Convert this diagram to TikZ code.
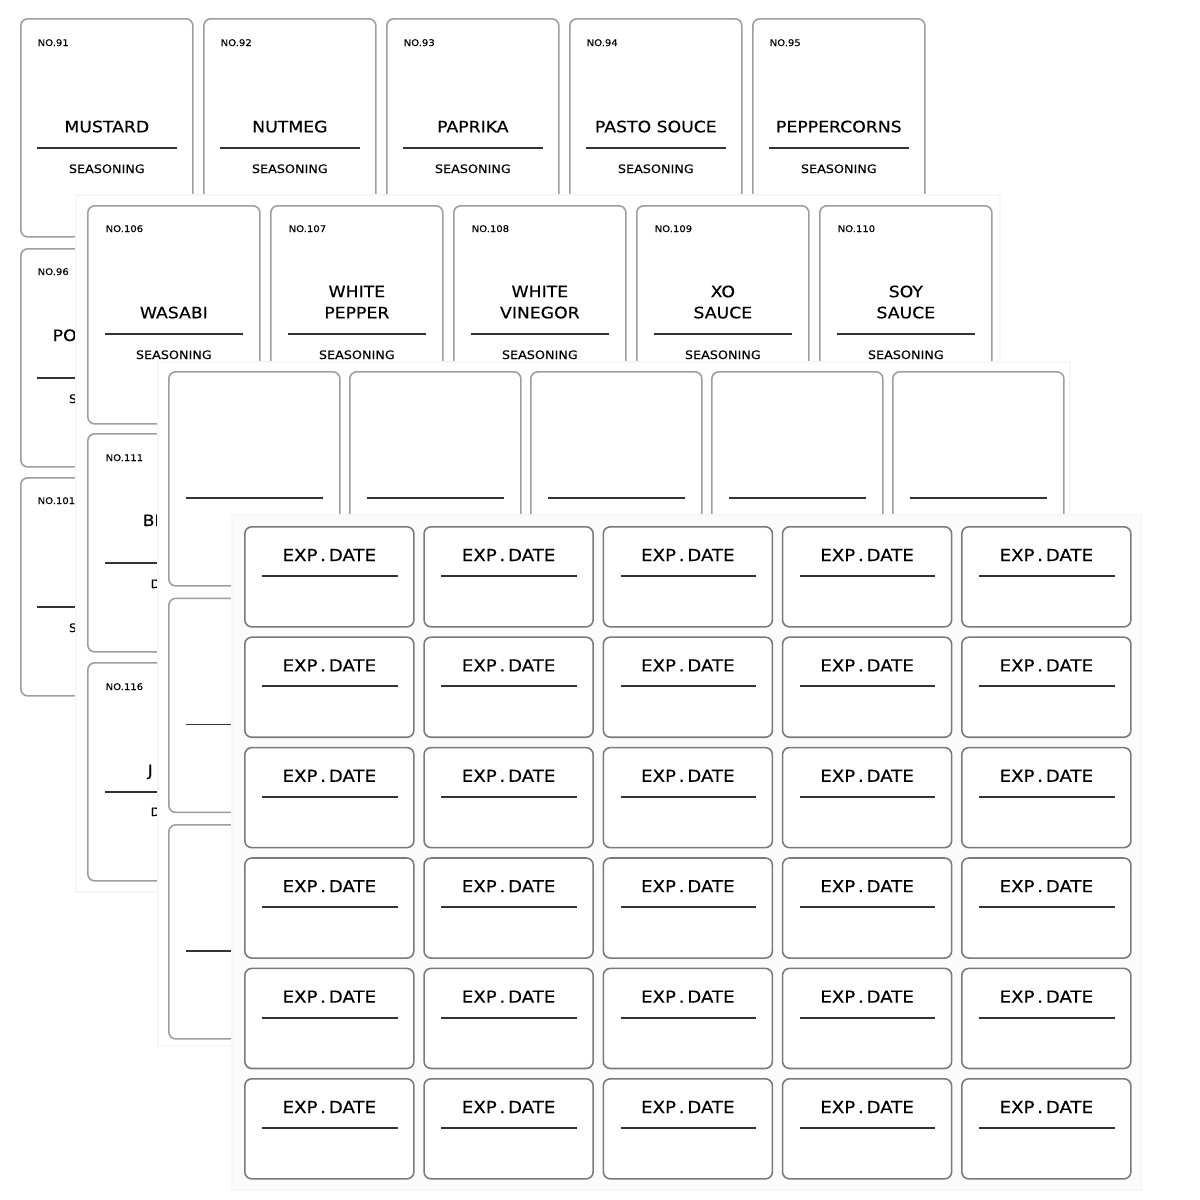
\documentclass[tikz,border=0pt]{standalone}
\usepackage{fontspec}
\newfontfamily\labelfont[FakeStretch=1.1, FakeBold=0.4]{DejaVu Sans}
\usetikzlibrary{positioning}

\begin{document}
\begin{tikzpicture}[
    x=0.01cm, y=-0.01cm,
    % Styles
    spice/.style={
        rectangle,
        draw=black!38,
        line width=0.45pt,
        fill=white,
        rounded corners=2pt,
        minimum width=1.72cm,
        minimum height=2.18cm,
        anchor=north west
    },
    blank/.style={
        spice,
        minimum width=1.71cm,
        minimum height=2.14cm
    },
    expiry/.style={
        spice,
        draw=black!52,
        minimum width=1.69cm,
        minimum height=1.0cm
    },
    num/.style={anchor=base west, inner sep=0, font=\labelfont\fontsize{2.6}{3.2}\selectfont},
    spname/.style={anchor=south, inner sep=0, text depth=0pt, align=center,
        font=\labelfont\fontsize{4.46}{6}\selectfont},
    part/.style={anchor=base west, inner sep=0, font=\labelfont\fontsize{4.46}{6}\selectfont},
    sub/.style={anchor=base, inner sep=0, font=\labelfont\fontsize{3.3}{4}\selectfont},
    sub part/.style={sub, anchor=base west},
    expdate/.style={anchor=base, inner sep=0, font=\labelfont\fontsize{4.7}{5.6}\selectfont},
    % Line Styles
    rule/.style={draw=black!80, line width=0.55pt},
    backing/.style={fill=white, draw=black!3, line width=0.4pt}
]

\fill[white] (0,0) rectangle (1200,1200);
\useasboundingbox (0,0) rectangle (1200,1200);

% --- Sheet 1 (back) ---
\foreach \c/\nm in {0/MUSTARD,1/NUTMEG,2/PAPRIKA,3/PASTO SOUCE,4/PEPPERCORNS}{
    \pgfmathtruncatemacro\n{91+\c}
    \node[spice] (spice\n) at (20+183*\c,18) {};
    \node[num] at ([shift={(17,28)}]spice\n.north west) {NO.\n};
    \node[spname] at ([shift={(0,115)}]spice\n.north) {\nm};
    \draw[rule] ([shift={(17,130)}]spice\n.north west) -- ([shift={(-17,130)}]spice\n.north east);
    \node[sub] at ([shift={(0,155)}]spice\n.north) {SEASONING};
}
\node[spice] (spice96) at (20,248) {};
\node[num] at ([shift={(17,27)}]spice96.north west) {NO.96};
\node[part] at ([shift={(32,93)}]spice96.north west) {PO};
\draw[rule] ([shift={(17,130)}]spice96.north west) -- ([shift={(-17,130)}]spice96.north east);
\node[sub] at ([shift={(0,155)}]spice96.north) {SEASONING};

\node[spice] (spice101) at (20,477) {};
\node[num] at ([shift={(17,27)}]spice101.north west) {NO.101};
\draw[rule] ([shift={(17,130)}]spice101.north west) -- ([shift={(-17,130)}]spice101.north east);
\node[sub] at ([shift={(0,155)}]spice101.north) {SEASONING};

% --- Sheet 2 ---
\path[backing] (76,195) rectangle (1000,892);
\foreach \c/\nm in {0/WASABI,1/{WHITE\\PEPPER},2/{WHITE\\VINEGOR},3/{XO\\SAUCE},4/{SOY\\SAUCE}}{
    \pgfmathtruncatemacro\n{106+\c}
    \node[spice] (spice\n) at (87+183*\c,205) {};
    \node[num] at ([shift={(18,27)}]spice\n.north west) {NO.\n};
    \node[spname] at ([shift={(0,114)}]spice\n.north) {\nm};
    \draw[rule] ([shift={(18,129)}]spice\n.north west) -- ([shift={(-18,129)}]spice\n.north east);
    \node[sub] at ([shift={(0,154)}]spice\n.north) {SEASONING};
}
\node[spice] (spice111) at (87,433) {};
\node[num] at ([shift={(18,28)}]spice111.north west) {NO.111};
\node[part] at ([shift={(55,93)}]spice111.north west) {BL};
\draw[rule] ([shift={(18,130)}]spice111.north west) -- ([shift={(-18,130)}]spice111.north east);
\node[sub part] at ([shift={(63,155)}]spice111.north west) {D};

\node[spice] (spice116) at (87,662) {};
\node[num] at ([shift={(18,28)}]spice116.north west) {NO.116};
\node[part] at ([shift={(60,114)}]spice116.north west) {J};
\draw[rule] ([shift={(18,130)}]spice116.north west) -- ([shift={(-18,130)}]spice116.north east);
\node[sub part] at ([shift={(63,154)}]spice116.north west) {D};

% --- Sheet 3 (blank) ---
\path[backing] (158,362) rectangle (1070,1046);
\foreach \c in {0,...,4}{
    \node[blank] (blank\c) at (168+181*\c,371) {};
    \draw[rule] ([shift={(18,127)}]blank\c.north west) -- ([shift={(-18,127)}]blank\c.north east);
}
\foreach \r in {1,2}{
    \node[blank] (blankrow\r) at (168,371+226.5*\r) {};
    \draw[rule] ([shift={(18,127)}]blankrow\r.north west) -- ([shift={(-18,127)}]blankrow\r.north east);
}

% --- Sheet 4 (front) ---
\path[backing, fill=black!1.5] (232,515) rectangle (1141,1190);
\foreach \r in {0,...,5}{
    \foreach \c in {0,...,4}{
        \node[expiry] (exp\r\c) at (244+179.25*\c,526+110.4*\r) {};
        \node[expdate] at ([shift={(0,35)}]exp\r\c.north) {EXP\,.\,DATE};
        \draw[rule] ([shift={(18,50)}]exp\r\c.north west) -- ([shift={(-17,50)}]exp\r\c.north east);
    }
}

\end{tikzpicture}
\end{document}
